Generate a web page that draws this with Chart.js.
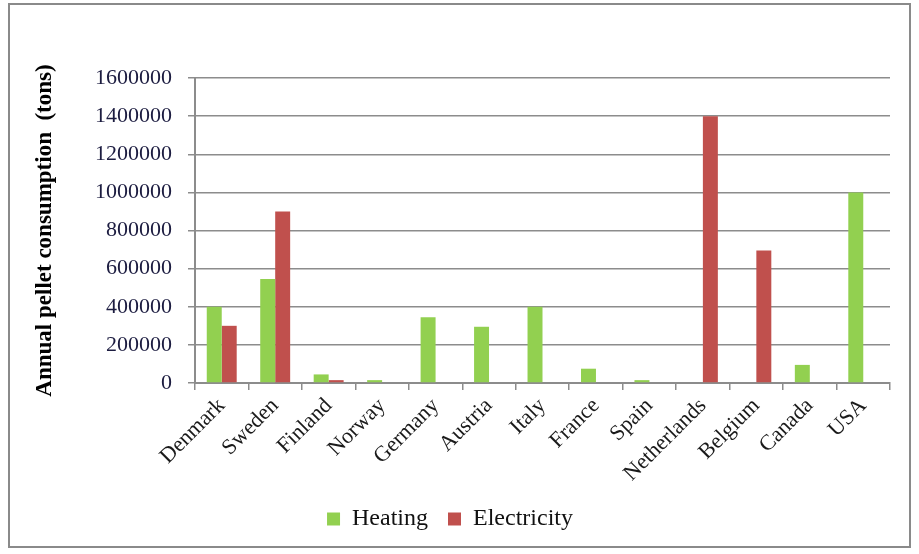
<!DOCTYPE html>
<html>
<head>
<meta charset="utf-8">
<script src="https://cdn.jsdelivr.net/npm/chart.js@4.4.1/dist/chart.umd.min.js"></script>
<style>
  html, body { margin: 0; padding: 0; background: #fff; }
  #box {
    position: absolute; left: 8px; top: 3px;
    width: 899px; height: 541px;
    border: 2px solid #8a8a8a;
  }
</style>
</head>
<body>
<div id="box"><canvas id="chart" width="899" height="541"></canvas></div>
<script>
const countries = ['Denmark', 'Sweden', 'Finland', 'Norway', 'Germany', 'Austria', 'Italy',
                   'France', 'Spain', 'Netherlands', 'Belgium', 'Canada', 'USA'];
const heating     = [400000, 545000, 45000, 15000, 345000, 295000, 400000, 75000, 15000, 0, 0, 95000, 1000000];
const electricity = [300000, 900000, 15000, 0, 0, 0, 0, 0, 0, 1400000, 695000, 0, 0];
const yTicks = [0, 200000, 400000, 600000, 800000, 1000000, 1200000, 1400000, 1600000];

const serif = 'Liberation Serif, Times New Roman, serif';
const gridGray = '#8c8c8c';

new Chart(document.getElementById('chart'), {
  type: 'bar',
  data: {
    labels: countries,
    datasets: [
      { label: 'Heating', data: heating, backgroundColor: '#92D050',
        categoryPercentage: 0.56, barPercentage: 1.0 },
      { label: 'Electricity', data: electricity, backgroundColor: '#C0504D',
        categoryPercentage: 0.56, barPercentage: 1.0 }
    ]
  },
  options: {
    responsive: false,
    animation: false,
    layout: { padding: { top: 73, right: 19, left: 0, bottom: 5 } },
    plugins: {
      tooltip: { enabled: false },
      legend: {
        position: 'bottom',
        labels: {
          boxWidth: 13, boxHeight: 13, padding: 20,
          color: '#111',
          font: { family: serif, size: 24 }
        }
      }
    },
    scales: {
      x: {
        grid: { display: true, drawOnChartArea: false, offset: true, color: gridGray,
                lineWidth: 1.5, tickLength: 7 },
        border: { color: gridGray, width: 2 },
        ticks: { color: '#1a1a1a', font: { family: serif, size: 22 },
                 minRotation: 45, maxRotation: 45, padding: 3 },
        afterFit: s => { s.height = 104; }
      },
      y: {
        min: 0, max: 1600000,
        afterBuildTicks: s => { s.ticks = yTicks.map(v => ({ value: v })); },
        grid: { color: gridGray, lineWidth: 1.5, tickLength: 7 },
        border: { color: gridGray, width: 2 },
        ticks: { color: '#1c1c40', font: { family: serif, size: 22 }, padding: 16,
                 callback: v => String(v) },
        title: {
          display: true,
          text: 'Annual pellet consumption  (tons)',
          color: '#000',
          font: { family: serif, size: 23, weight: 'bold' },
          padding: { top: 21, bottom: 0 }
        },
        afterFit: s => { s.width = 185; }
      }
    }
  }
});
</script>
</body>
</html>
